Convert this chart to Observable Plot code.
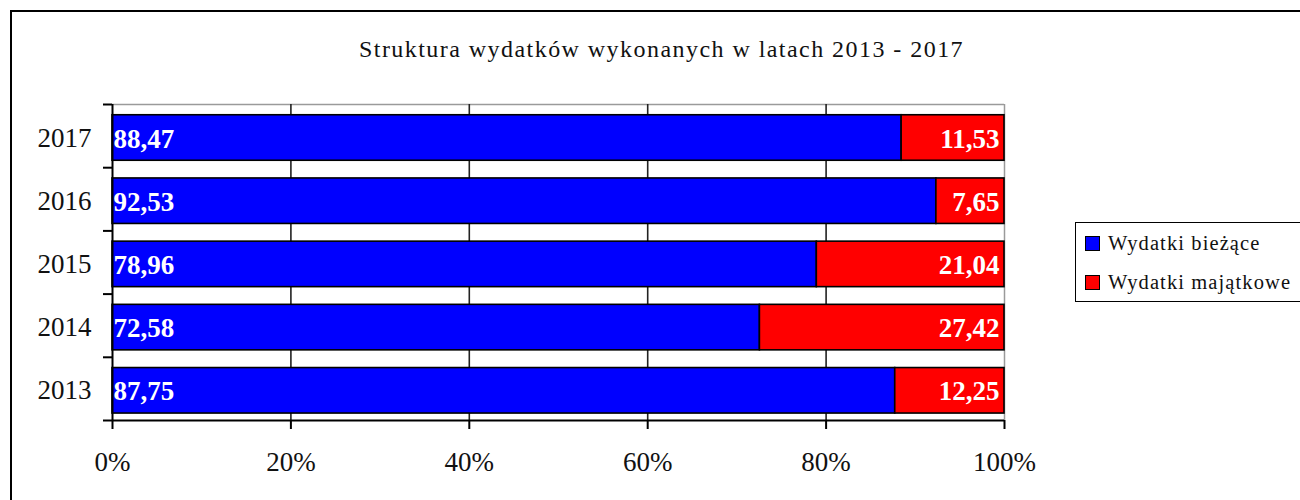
<!DOCTYPE html>
<html>
<head>
<meta charset="utf-8">
<script src="https://cdn.jsdelivr.net/npm/d3@7"></script>
<script src="https://cdn.jsdelivr.net/npm/@observablehq/plot@0.6"></script>
<style>
  html, body { margin: 0; padding: 0; overflow: hidden; background: #fff; }
  #wrap { position: relative; width: 1300px; height: 500px; overflow: hidden; font-family: "Liberation Serif", "DejaVu Serif", serif; }
  #frame { position: absolute; left: 10px; top: 10px; width: 1400px; height: 600px; border: 2.5px solid #000; box-sizing: border-box; }
  #title { position: absolute; left: 0; width: 1323px; top: 36px; text-align: center; font-size: 24px; letter-spacing: 1.45px; color: #111; }
  #chart { position: absolute; left: 0; top: 0; }
  #legend { position: absolute; left: 1075px; top: 222px; width: 260px; height: 80px; border: 1.5px solid #000; box-sizing: border-box; font-size: 20.5px; letter-spacing: 1.1px; color: #111; }
  .item { position: absolute; left: 9px; display: flex; align-items: center; white-space: nowrap; }
  .sw { width: 13px; height: 13px; border: 1.5px solid #000; margin-right: 8px; }
</style>
</head>
<body>
<div id="wrap">
  <div id="frame"></div>
  <div id="title">Struktura wydatków wykonanych w latach 2013 - 2017</div>
  <div id="chart"></div>
  <div id="legend"></div>
</div>
<script>
const years = [2013, 2014, 2015, 2016, 2017];
const current = [87.75, 72.58, 78.96, 92.53, 88.47];   // Wydatki bieżące
const capital = [12.25, 27.42, 21.04, 7.65, 11.53];    // Wydatki majątkowe
const seriesNames = ["Wydatki bieżące", "Wydatki majątkowe"];
const seriesColors = ["#0000ff", "#ff0000"];
const xTicks = [0, 20, 40, 60, 80, 100];

const fmt = v => v.toFixed(2).replace(".", ",");
const half = 0.36;
const shift = 0.03;

const rows = [];
years.forEach((y, i) => {
  const total = current[i] + capital[i];
  const split = current[i] / total * 100;
  rows.push({year: y, series: seriesNames[0], x1: 0, x2: split, value: current[i]});
  rows.push({year: y, series: seriesNames[1], x1: split, x2: 100, value: capital[i]});
});
const bounds = [years[0] - 0.5, ...years.map(y => y + 0.5)].map(b => b + shift);
const yTop = bounds[bounds.length - 1];
const yBottom = bounds[0];

const chart = Plot.plot({
  width: 1300,
  height: 500,
  marginLeft: 112,
  marginRight: 296,
  marginTop: 104,
  marginBottom: 80,
  style: {fontFamily: "Liberation Serif, serif", background: "transparent", color: "#111"},
  x: {domain: [0, 100], label: null},
  y: {domain: [yBottom, yTop], label: null},
  color: {domain: seriesNames, range: seriesColors},
  marks: [
    Plot.ruleY([yTop], {stroke: "#9a9a9a", strokeWidth: 1.5}),
    Plot.ruleX([100], {stroke: "#9a9a9a", strokeWidth: 1.5}),
    Plot.ruleX(xTicks.slice(1, -1), {stroke: "#222", strokeWidth: 1.6}),
    Plot.rectX(rows, {
      x1: "x1", x2: "x2",
      y1: d => d.year - half, y2: d => d.year + half,
      fill: "series", stroke: "#000", strokeWidth: 1.6
    }),
    Plot.text(rows.filter(d => d.series === seriesNames[0]), {
      x: "x1", y: "year", text: d => fmt(d.value),
      textAnchor: "start", dx: 1, dy: 1, fill: "#fff", fontSize: 27, fontWeight: "bold"
    }),
    Plot.text(rows.filter(d => d.series === seriesNames[1]), {
      x: "x2", y: "year", text: d => fmt(d.value),
      textAnchor: "end", dx: -5, dy: 1, fill: "#fff", fontSize: 27, fontWeight: "bold"
    }),
    Plot.ruleX([0], {stroke: "#000", strokeWidth: 2}),
    Plot.ruleY([yBottom], {stroke: "#000", strokeWidth: 2}),
    Plot.axisY({ticks: bounds, tickFormat: () => "", tickSize: 9, strokeWidth: 2, stroke: "#000", label: null}),
    Plot.axisY({ticks: years, tickSize: 0, tickPadding: 21, fontSize: 27, tickFormat: d => String(d), label: null}),
    Plot.axisX({ticks: xTicks, tickSize: 9, strokeWidth: 2, stroke: "#000", tickPadding: 22, fontSize: 27, tickFormat: d => d + "%", label: null})
  ]
});
document.getElementById("chart").appendChild(chart);

const legend = document.getElementById("legend");
seriesNames.forEach((name, i) => {
  const item = document.createElement("div");
  item.className = "item";
  item.style.top = (i === 0 ? 9 : 48) + "px";
  const sw = document.createElement("div");
  sw.className = "sw";
  sw.style.background = seriesColors[i];
  const label = document.createElement("span");
  label.textContent = name;
  item.appendChild(sw);
  item.appendChild(label);
  legend.appendChild(item);
});
</script>
</body>
</html>
